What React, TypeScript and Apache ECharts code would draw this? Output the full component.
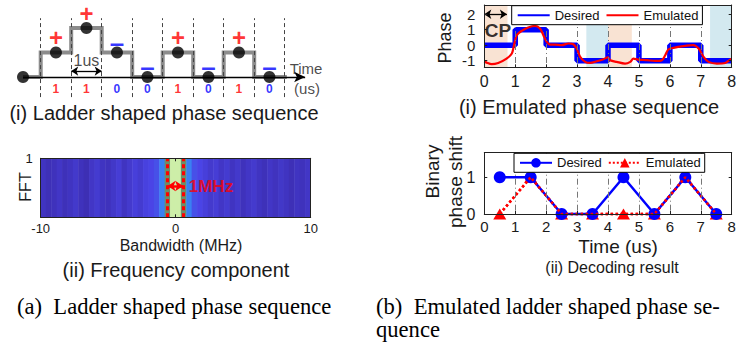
import React, { useEffect, useRef } from "react";
import * as echarts from "echarts";

const FONT = "'Liberation Sans', Arial, Helvetica, sans-serif";
const SERIF = "'Liberation Serif', 'Times New Roman', serif";
const INK = "#1a1a1a";
const RED = "#ff0000";
const BLUE = "#0000ff";

// ---------- (a)(i) ladder shaped phase sequence ----------
const ladderBits = [1, 1, 0, 0, 1, 0, 1, 0];
const ladderStart = -0.58;
const ladderLineEnd = 8.07;
const ladderArrowEnd = 8.67;

// ---------- (a)(ii) frequency component (FFT magnitude, -10..10 MHz, 0.4 MHz bins) ----------
const fftValues = [
  0.1, 0.06, 0.08, 0.12, 0.07, 0.1, 0.14, 0.08, 0.05, 0.12,
  0.16, 0.1, 0.08, 0.13, 0.18, 0.1, 0.15, 0.2, 0.16, 0.22,
  0.25, 0.3, 0.5, 0.75, 1.0, 1.0, 0.75, 0.5, 0.3, 0.25,
  0.2, 0.15, 0.18, 0.12, 0.16, 0.1, 0.14, 0.08, 0.12, 0.15,
  0.1, 0.07, 0.12, 0.09, 0.13, 0.1, 0.06, 0.1, 0.08, 0.12,
];
const fftRange = [-10, 10];
const bandEdges = [-0.6, 0.55];

// ---------- (b)(i) emulated phase sequence ----------
const phaseDesired = [0, 1, 0, -1, 0, -1, 0, -1];
const emuX = [
  0, 0.1, 0.24, 0.45, 0.72, 0.89, 0.96, 1.05, 1.21, 1.42,
  1.64, 1.8, 1.91, 2.02, 2.13, 2.29, 2.5, 2.72, 2.88, 2.99,
  3.1, 3.26, 3.42, 3.64, 3.85, 4.0, 4.07, 4.28, 4.55, 4.72,
  4.82, 4.98, 5.26, 5.52, 5.74, 5.85, 5.95, 6.12, 6.44, 6.76,
  6.93, 7.09, 7.25, 7.52, 7.79, 7.95, 8.0,
];
const emuY = [
  -1.04, -1.15, -1.23, -1.15, -0.87, -0.54, 0.0, 0.65, 0.93, 1.15,
  1.25, 1.08, 0.65, 0.21, 0.04, 0.04, 0.0, 0.11, 0.06, -0.22,
  -0.76, -1.08, -1.15, -1.04, -0.91, -0.78, -0.97, -1.08, -1.19, -1.08,
  -0.87, -0.93, -0.97, -1.02, -0.97, -0.65, -0.28, -0.17, -0.06, 0.0,
  -0.22, -0.76, -1.08, -1.19, -1.15, -0.93, -0.88,
];
const cpShades = [[0, 0.75], [4, 4.77]];
const tailShades = [[3.3, 4], [7.3, 8]];
const phaseTicks = [-1, 0, 1, 2];

// ---------- (b)(ii) decoding result ----------
const decodeTimes = [0.5, 1.5, 2.5, 3.5, 4.5, 5.5, 6.5, 7.5];
const decodeDesired = [1, 1, 0, 0, 1, 0, 1, 0];
const decodeEmulated = [0, 1, 0, 0, 0, 0, 1, 0];
const decodeTicks = [0, 1];

function frameAxis(gridIndex: number, position: string, extra: any = {}) {
  return {
    type: "value",
    gridIndex,
    position,
    axisLine: { show: true, onZero: false, lineStyle: { color: "#222", width: 1 } },
    axisTick: { show: true, inside: true, length: 3, lineStyle: { color: "#222", width: 1 } },
    axisLabel: { show: false },
    splitLine: { show: false },
    z: 10,
    ...extra,
  };
}

function buildOption() {
  // ladder geometry from the bit list
  const ladderLevels: number[] = [];
  let lv = 0;
  ladderBits.forEach((b) => {
    lv += b ? 1 : -1;
    ladderLevels.push(lv);
  });
  const ladderPath: number[][] = [[ladderStart, 0]];
  let prev = 0;
  ladderLevels.forEach((l, k) => {
    ladderPath.push([k, prev], [k, l]);
    prev = l;
  });
  ladderPath.push([ladderLineEnd, prev]);
  const boundaries = ladderBits.map((_, k) => k).concat([ladderBits.length]);
  const dots = [[ladderStart, 0]].concat(ladderLevels.map((l, k) => [k + 0.5, l]));

  const ladderTexts: any[] = [];
  ladderBits.forEach((b, k) => {
    ladderTexts.push({
      value: [k + 0.5, ladderLevels[k] + (b ? 0.6 : 0.4)],
      label: { formatter: b ? "+" : "–", color: b ? RED : BLUE, fontSize: b ? 24 : 26, fontWeight: "bold" },
    });
    ladderTexts.push({
      value: [k + 0.5, -0.49],
      label: { formatter: String(b), color: b ? RED : BLUE, fontSize: 12, fontWeight: "bold" },
    });
  });
  ladderTexts.push({ value: [1.5, 0.66], label: { formatter: "1us", color: INK, fontSize: 16 } });
  ladderTexts.push({ value: [8.7, 0.33], label: { formatter: "Time", color: INK, fontSize: 15 } });
  ladderTexts.push({ value: [8.73, -0.45], label: { formatter: "(us)", color: INK, fontSize: 15 } });

  const phaseDesiredPts = phaseDesired.map((v, i) => [i, v]).concat([[phaseDesired.length, phaseDesired[phaseDesired.length - 1]]]);
  const emuPts = emuX.map((x, i) => [x, emuY[i]]);

  const textLabel = { show: true, position: "inside", fontFamily: FONT };

  const series: any[] = [
    // 0 ladder guides
    {
      name: "ladder-guides", type: "line", xAxisIndex: 0, yAxisIndex: 0, data: [], z: 1,
      markLine: {
        silent: true, symbol: ["none", "none"], label: { show: false },
        lineStyle: { color: "#444", type: [4, 3], width: 1 },
        data: boundaries.map((k) => [{ coord: [k, -0.82] }, { coord: [k, 2.4] }]),
      },
    },
    // 1 ladder time axis
    {
      name: "ladder-axis", type: "line", xAxisIndex: 0, yAxisIndex: 0, data: [], z: 2,
      markLine: {
        silent: true, label: { show: false },
        lineStyle: { color: "#000", type: "solid", width: 1.3 },
        data: [[{ coord: [ladderStart, 0], symbol: "none" }, { coord: [ladderArrowEnd, 0], symbol: "arrow", symbolSize: [8, 11] }]],
      },
    },
    // 2 ladder step line
    {
      name: "ladder", type: "lines", coordinateSystem: "cartesian2d", xAxisIndex: 0, yAxisIndex: 0,
      polyline: true, z: 3, silent: true,
      data: [{ coords: ladderPath }],
      lineStyle: { color: "#8c8c8c", width: 4, opacity: 1, curveness: 0 },
    },
    // 3 ladder dots
    {
      name: "ladder-dots", type: "scatter", xAxisIndex: 0, yAxisIndex: 0, data: dots, z: 4,
      symbolSize: 12, itemStyle: { color: "#000" }, silent: true,
    },
    // 4 ladder texts
    {
      name: "ladder-text", type: "scatter", xAxisIndex: 0, yAxisIndex: 0, data: ladderTexts, z: 5,
      symbolSize: 1, itemStyle: { color: "rgba(0,0,0,0)" }, label: textLabel, silent: true,
    },
    // 5 1us arrow
    {
      name: "ladder-unit", type: "line", xAxisIndex: 0, yAxisIndex: 0, data: [], z: 5,
      markLine: {
        silent: true, label: { show: false }, symbol: ["arrow", "arrow"], symbolSize: 7,
        lineStyle: { color: "#000", type: "solid", width: 1.3 },
        data: [[{ coord: [1, 0.24] }, { coord: [2, 0.24] }]],
      },
    },
    // 6 heatmap
    {
      name: "fft", type: "heatmap", xAxisIndex: 1, yAxisIndex: 1, z: 2, silent: true,
      data: fftValues.map((v, i) => [i, 0, v]),
      itemStyle: { borderWidth: 0 },
      emphasis: { disabled: true },
    },
    // 7 band edges
    {
      name: "band-edges", type: "line", xAxisIndex: 2, yAxisIndex: 2, data: [], z: 6,
      markLine: {
        silent: true, symbol: ["none", "none"], label: { show: false },
        lineStyle: { color: RED, type: [4, 3], width: 3 },
        data: bandEdges.map((e) => [{ coord: [e, 0] }, { coord: [e, 1] }]),
      },
    },
    // 8 band arrow
    {
      name: "band-arrow", type: "line", xAxisIndex: 2, yAxisIndex: 2, data: [], z: 7,
      markLine: {
        silent: true, symbol: ["arrow", "arrow"], symbolSize: 8, label: { show: false },
        lineStyle: { color: RED, type: "solid", width: 2.5 },
        data: [[{ coord: [bandEdges[0], 0.53] }, { coord: [bandEdges[1], 0.53] }]],
      },
    },
    // 9 band text
    {
      name: "band-text", type: "scatter", xAxisIndex: 2, yAxisIndex: 2, z: 7, silent: true,
      symbolSize: 1, itemStyle: { color: "rgba(0,0,0,0)" },
      data: [{ value: [0.93, 0.53] }],
      label: { show: true, position: "right", distance: 0, formatter: "1MHz", color: RED, fontSize: 17, fontWeight: "bold", fontFamily: FONT },
    },
    // 10 desired phase
    {
      name: "Desired", type: "line", xAxisIndex: 4, yAxisIndex: 4, z: 2, silent: true,
      data: phaseDesiredPts, step: "end", symbol: "none",
      lineStyle: { color: BLUE, width: 5.5 }, itemStyle: { color: BLUE },
    },
    // 11 emulated phase
    {
      name: "Emulated", type: "line", xAxisIndex: 4, yAxisIndex: 4, z: 3, silent: true,
      data: emuPts, smooth: 0.3, symbol: "none",
      lineStyle: { color: RED, width: 2.2 }, itemStyle: { color: RED },
    },
    // 12 CP shading
    {
      name: "shades", type: "line", xAxisIndex: 4, yAxisIndex: 4, z: 4, data: [], silent: true,
      markArea: {
        silent: true,
        data: cpShades
          .map((s) => [{ xAxis: s[0], itemStyle: { color: "rgba(243,199,167,0.5)" } }, { xAxis: s[1] }])
          .concat(tailShades.map((s) => [{ xAxis: s[0], itemStyle: { color: "rgba(167,211,225,0.5)" } }, { xAxis: s[1] }])),
      },
    },
    // 13 CP arrow
    {
      name: "cp-arrow", type: "line", xAxisIndex: 4, yAxisIndex: 4, data: [], z: 6,
      markLine: {
        silent: true, symbol: ["arrow", "arrow"], symbolSize: 7, label: { show: false },
        lineStyle: { color: "#000", type: "solid", width: 1.3 },
        data: [[{ coord: [0, 2.0] }, { coord: [cpShades[0][1] - 0.02, 2.0] }]],
      },
    },
    // 14 CP text
    {
      name: "cp-text", type: "scatter", xAxisIndex: 4, yAxisIndex: 4, z: 6, silent: true,
      symbolSize: 1, itemStyle: { color: "rgba(0,0,0,0)" },
      data: [{ value: [0.44, 0.93] }],
      label: { show: true, position: "inside", formatter: "CP", color: "#000", fontSize: 19, fontWeight: "bold", fontFamily: FONT },
    },
    // 15 emulated decode (triangles)
    {
      name: "Emulated (ii)", type: "line", xAxisIndex: 6, yAxisIndex: 6, z: 2, silent: true, clip: false,
      data: decodeTimes.map((t, i) => [t, decodeEmulated[i]]),
      symbol: "triangle", symbolSize: [13, 11],
      lineStyle: { color: RED, width: 2.5, type: "dotted" }, itemStyle: { color: RED },
    },
    // 16 desired decode
    {
      name: "Desired (ii)", type: "line", xAxisIndex: 6, yAxisIndex: 6, z: 3, silent: true, clip: false,
      data: decodeTimes.map((t, i) => [t, decodeDesired[i]]),
      symbol: "circle", symbolSize: 12,
      lineStyle: { color: BLUE, width: 2.5 }, itemStyle: { color: BLUE },
    },
    // 17 emulated dotted overlay
    {
      name: "emulated-overlay", type: "line", xAxisIndex: 6, yAxisIndex: 6, z: 4, silent: true, clip: false,
      data: decodeTimes.map((t, i) => [t, decodeEmulated[i]]),
      symbol: "none",
      lineStyle: { color: RED, width: 2.5, type: "dotted" },
    },
  ];

  const gridBase = { containLabel: false, outerBoundsMode: "none", show: false };

  const legendBase = {
    orient: "horizontal",
    selectedMode: false,
    backgroundColor: "#fff",
    borderColor: "#000",
    borderWidth: 1,
    borderRadius: 0,
    padding: [3, 4, 3, 5],
    itemGap: 6,
    itemWidth: 32,
    itemHeight: 12,
    z: 20,
    textStyle: { fontSize: 13, color: "#111", fontFamily: FONT },
  };

  const txt = (text: string, x: number, y: number, size: number, extra: any = {}) => ({
    type: "text",
    x,
    y,
    silent: true,
    z: 50,
    ...extra,
    style: { text, fontSize: size, fontFamily: FONT, fill: INK, align: "center", verticalAlign: "middle", ...(extra.style || {}) },
  });
  const serifStyle = { style: { fontFamily: SERIF, fill: "#000", align: "left" } };

  return {
    animation: false,
    backgroundColor: "#fff",
    textStyle: { fontFamily: FONT },
    grid: [
      { ...gridBase, left: 10.2, top: 3.5, width: 305, height: 98 },
      { ...gridBase, left: 40.7, top: 158.3, width: 270, height: 59 },
      { ...gridBase, left: 484.3, top: 5, width: 247.4, height: 62.3 },
      { ...gridBase, left: 484.3, top: 152.7, width: 247.4, height: 61.3 },
    ],
    xAxis: [
      { type: "value", gridIndex: 0, min: -1, max: 9, show: false },
      { type: "category", gridIndex: 1, data: fftValues.map((_, i) => String(i)), show: false },
      frameAxis(1, "bottom", {
        min: fftRange[0], max: fftRange[1], interval: 10,
        axisLabel: { show: true, fontSize: 13, color: INK, margin: 5, fontFamily: FONT },
      }),
      frameAxis(1, "top", { min: fftRange[0], max: fftRange[1], interval: 10 }),
      frameAxis(2, "bottom", {
        min: 0, max: 8, interval: 1,
        axisLabel: { show: true, fontSize: 16, color: INK, margin: 6, fontFamily: FONT },
        splitLine: { show: true, lineStyle: { color: "#777", width: 1, type: [6, 3, 1, 3] } },
      }),
      frameAxis(2, "top", { min: 0, max: 8, interval: 1 }),
      frameAxis(3, "bottom", {
        min: 0, max: 8, interval: 1,
        axisLabel: { show: true, fontSize: 15, color: INK, margin: 5, fontFamily: FONT },
        splitLine: { show: true, lineStyle: { color: "#777", width: 1, type: [6, 3, 1, 3] } },
      }),
      frameAxis(3, "top", { min: 0, max: 8, interval: 1 }),
    ],
    yAxis: [
      { type: "value", gridIndex: 0, min: -1, max: 3, show: false },
      { type: "category", gridIndex: 1, data: ["FFT"], show: false },
      frameAxis(1, "left", {
        min: 0, max: 1, interval: 1,
        axisLabel: { show: true, fontSize: 13, color: INK, margin: 8, fontFamily: FONT, formatter: (v: number) => (v === 1 ? "1" : "") },
      }),
      frameAxis(1, "right", { min: 0, max: 1, interval: 1 }),
      frameAxis(2, "left", {
        min: -1.43, max: 2.6,
        axisTick: { show: true, inside: true, length: 3, customValues: phaseTicks, lineStyle: { color: "#222" } },
        axisLabel: { show: true, fontSize: 15, color: INK, margin: 9, fontFamily: FONT, customValues: phaseTicks },
      }),
      frameAxis(2, "right", {
        min: -1.43, max: 2.6,
        axisTick: { show: true, inside: true, length: 3, customValues: phaseTicks, lineStyle: { color: "#222" } },
      }),
      frameAxis(3, "left", {
        min: 0, max: 1.67,
        axisTick: { show: true, inside: true, length: 3, customValues: decodeTicks, lineStyle: { color: "#222" } },
        axisLabel: { show: true, fontSize: 16, color: INK, margin: 9, fontFamily: FONT, customValues: decodeTicks },
      }),
      frameAxis(3, "right", {
        min: 0, max: 1.67,
        axisTick: { show: true, inside: true, length: 3, customValues: decodeTicks, lineStyle: { color: "#222" } },
      }),
    ],
    visualMap: [
      {
        type: "continuous", show: false, seriesIndex: 6, dimension: 2, min: 0, max: 1,
        inRange: { color: ["#3a2aa8", "#4a44e6", "#3a80f2", "#6a8e6a", "#cdeea8"] },
      },
    ],
    legend: [
      { ...legendBase, data: ["Desired", "Emulated"], left: 511.7, top: 5.7, itemStyle: { opacity: 0 } },
      {
        ...legendBase, data: ["Desired (ii)", "Emulated (ii)"], left: 514, top: 153.3,
        formatter: (n: string) => n.replace(" (ii)", ""),
      },
    ],
    series,
    graphic: [
      txt("(i) Ladder shaped phase sequence", 164, 113, 20),
      txt("FFT", 25, 187, 16, { rotation: Math.PI / 2 }),
      txt("Bandwidth (MHz)", 181, 245, 16),
      txt("(ii) Frequency component", 176, 270, 20),
      txt("Phase", 445, 38, 18, { rotation: Math.PI / 2 }),
      txt("(i) Emulated phase sequence", 589, 107, 20),
      txt("Binary", 432, 171.5, 19, { rotation: Math.PI / 2 }),
      txt("phase shift", 455, 182, 19, { rotation: Math.PI / 2 }),
      txt("Time (us)", 618, 246, 19),
      txt("(ii) Decoding result", 612, 267, 16),
      txt("(a)  Ladder shaped phase sequence", 17, 306, 22.6, serifStyle),
      txt("(b)  Emulated ladder shaped phase se-", 376, 306, 22.6, serifStyle),
      txt("quence", 376, 329, 22.6, serifStyle),
    ],
  };
}

export default function App() {
  const ref = useRef<HTMLDivElement>(null);
  useEffect(() => {
    const chart = echarts.init(ref.current as HTMLDivElement, null, { renderer: "svg" });
    chart.setOption(buildOption() as any);
    return () => chart.dispose();
  }, []);
  return (
    <div
      ref={ref}
      style={{ position: "fixed", left: 0, top: 0, width: 738, height: 349, background: "#fff" }}
    />
  );
}
